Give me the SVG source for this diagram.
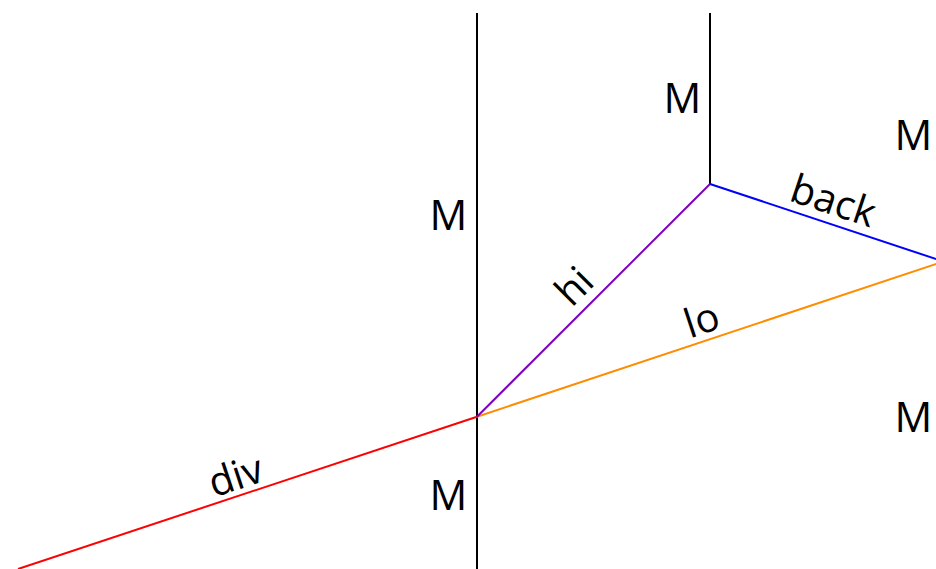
<svg xmlns="http://www.w3.org/2000/svg" width="936" height="569" viewBox="0 0 936 569">
<style>
.ln{fill:none;stroke-width:2;}
.t{font-family:"Open Sans","Noto Sans",sans-serif;font-size:40px;fill:#000;}
.m{font-family:"Open Sans","Noto Sans",sans-serif;font-size:42px;fill:#000;text-anchor:middle;}
</style>
<rect width="936" height="569" fill="#fff"/>
<g id="connectors">
<line class="ln" x1="477" y1="13" x2="477" y2="569" stroke="#000"/>
<line class="ln" x1="710" y1="13" x2="710" y2="184" stroke="#000"/>
<line id="div" class="ln" x1="18" y1="569" x2="477" y2="416.7" stroke="#ff0000"/>
<line id="lo" class="ln" x1="477" y1="416.7" x2="942" y2="262" stroke="#ff8c00"/>
<line id="hi" class="ln" x1="477" y1="416.7" x2="710" y2="184" stroke="#8000c0"/>
<line id="back" class="ln" x1="710" y1="184" x2="942" y2="261" stroke="#0000ff"/>
<text class="t" text-anchor="middle" transform="translate(240,489) rotate(-18.4)">div</text>
<text class="t" text-anchor="middle" transform="translate(706,333) rotate(-18.4)">lo</text>
<text class="t" text-anchor="middle" transform="translate(584,296) rotate(-45)">hi</text>
<text class="t" text-anchor="middle" transform="translate(829,214) rotate(18.4)">back</text>
</g>
<g id="labels">
<text class="m" x="448.5" y="229.5">M</text>
<text class="m" x="448.5" y="509.5">M</text>
<text class="m" x="682.5" y="113">M</text>
<text class="m" x="913.5" y="150">M</text>
<text class="m" x="913.5" y="432">M</text>
</g>
</svg>
